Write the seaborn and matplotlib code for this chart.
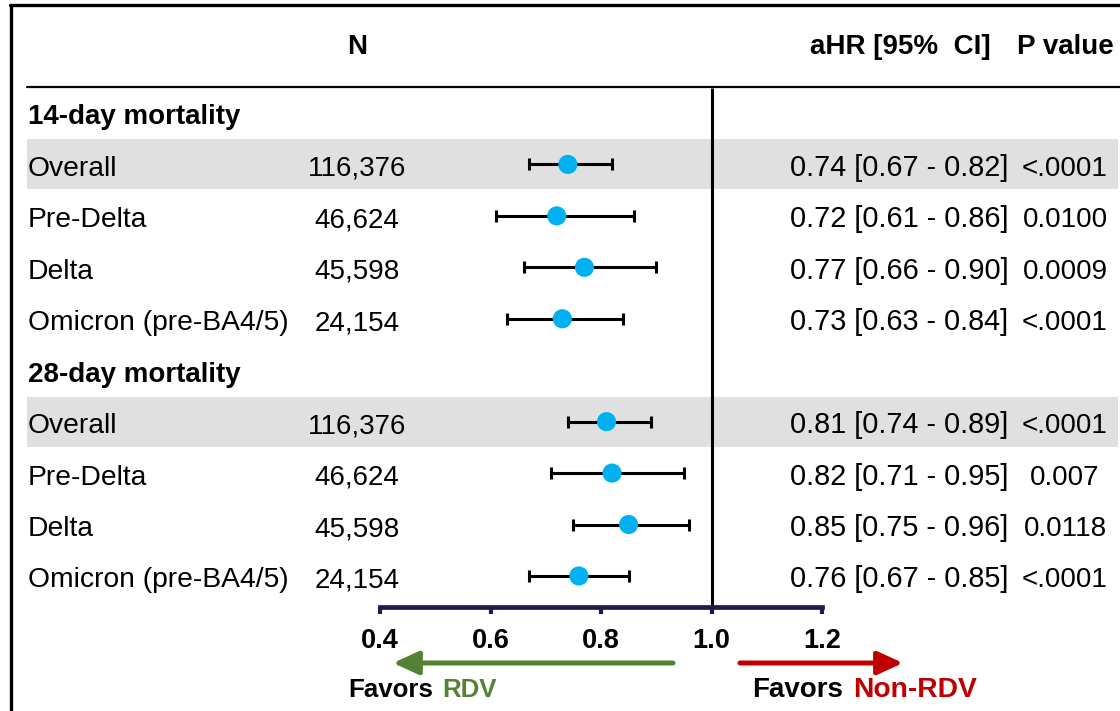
import numpy as np
import matplotlib
matplotlib.use("Agg")
import matplotlib.pyplot as plt
import matplotlib.transforms as mtransforms
from matplotlib.lines import Line2D
import seaborn as sns

# ---------------- data ----------------
group_titles = ["14-day mortality", "28-day mortality"]
subgroups = ["Overall", "Pre-Delta", "Delta", "Omicron (pre-BA4/5)"]
n_14 = ["116,376", "46,624", "45,598", "24,154"]
n_28 = ["116,376", "46,624", "45,598", "24,154"]
hr_14 = [0.74, 0.72, 0.77, 0.73]
lo_14 = [0.67, 0.61, 0.66, 0.63]
hi_14 = [0.82, 0.86, 0.90, 0.84]
p_14 = ["<.0001", "0.0100", "0.0009", "<.0001"]
hr_28 = [0.81, 0.82, 0.85, 0.76]
lo_28 = [0.74, 0.71, 0.75, 0.67]
hi_28 = [0.89, 0.95, 0.96, 0.85]
p_28 = ["<.0001", "0.007", "0.0118", "<.0001"]
x_ticks = [0.4, 0.6, 0.8, 1.0, 1.2]
ref_value = 1.0

# ---------------- style ----------------
sns.set_theme(style="white")
plt.rcParams["font.family"] = ["Liberation Sans", "DejaVu Sans"]
plt.rcParams["text.color"] = "black"
plt.rcParams["xtick.color"] = "black"
plt.rcParams["xtick.labelcolor"] = "black"

W, H = 1120, 711
fig = plt.figure(figsize=(W / 100, H / 100), dpi=100)
ax = fig.add_axes([0, 0, 1, 1])
ax.set_axis_off()

# pixel geometry of the layout
row0_px, row_step = 113.0, 51.44
x04_px, px_per_unit = 380.0, 552.5
axis_px = 607


def row_of(py):
    return (py - row0_px) / row_step


def fx(px):
    return px / W


def fy(py):
    return 1 - py / H


ax.set_xlim(x_ticks[0] - x04_px / px_per_unit, x_ticks[0] + (W - x04_px) / px_per_unit)
ax.set_ylim(row_of(H), row_of(0))

blend = mtransforms.blended_transform_factory(fig.transFigure, ax.transData)
base_off = 11.5 / row_step  # baseline offset below row centre

# frame lines
fig.add_artist(Line2D([fx(10), 1], [fy(5), fy(5)], color="black", lw=2.4, transform=fig.transFigure))
fig.add_artist(Line2D([fx(11), fx(11)], [fy(5), 0], color="black", lw=2.4, transform=fig.transFigure))
fig.add_artist(Line2D([fx(27), 1], [fy(87), fy(87)], color="black", lw=1.6, transform=fig.transFigure))

# header
hdr_y = fy(47)
fig.text(fx(357), hdr_y, "N", ha="center", va="center", fontsize=20, fontweight="bold")
fig.text(fx(900), hdr_y, "aHR [95%  CI]", ha="center", va="center", fontsize=20, fontweight="bold")
fig.text(fx(1065), hdr_y, "P value", ha="center", va="center", fontsize=20, fontweight="bold")

# build rows
groups = [
    (group_titles[0], n_14, hr_14, lo_14, hi_14, p_14),
    (group_titles[1], n_28, hr_28, lo_28, hi_28, p_28),
]
r = 0
pt_rows, pt_hr, pt_lo, pt_hi = [], [], [], []
for title, ns, hrs, los, his, ps in groups:
    ax.text(fx(28), r + base_off, title, transform=blend, ha="left", va="baseline",
            fontsize=20, fontweight="bold")
    r += 1
    for i, name in enumerate(subgroups):
        if i == 0:
            ax.axhspan(r - 0.485, r + 0.485, xmin=fx(27), xmax=fx(1118),
                       color="#e0e0e0", zorder=0, lw=0)
        yb = r + base_off
        ax.text(fx(28), yb, name, transform=blend, ha="left", va="baseline", fontsize=20.3)
        ax.text(fx(357), yb, ns[i], transform=blend, ha="center", va="baseline", fontsize=20)
        ax.text(fx(790), yb, f"{hrs[i]:.2f} [{los[i]:.2f} - {his[i]:.2f}]",
                transform=blend, ha="left", va="baseline", fontsize=20.8)
        ax.text(fx(1065), yb, ps[i], transform=blend, ha="center", va="baseline", fontsize=20)
        pt_rows.append(r)
        pt_hr.append(hrs[i])
        pt_lo.append(los[i])
        pt_hi.append(his[i])
        r += 1

pt_hr = np.array(pt_hr)
pt_lo = np.array(pt_lo)
pt_hi = np.array(pt_hi)
pt_rows = np.array(pt_rows)

# reference line
ax.vlines(ref_value, row_of(88), row_of(axis_px), color="black", lw=2.2, zorder=1)

# CIs
ax.errorbar(pt_hr, pt_rows, xerr=[pt_hr - pt_lo, pt_hi - pt_hr], fmt="none",
            ecolor="black", elinewidth=2.2, capsize=4.5, capthick=2.2, zorder=2)
sns.scatterplot(x=pt_hr, y=pt_rows, ax=ax, s=190, color="#00b0f0",
                edgecolor="none", linewidth=0, zorder=3, legend=False)
ax.set_axis_off()

# x axis (separate axes for the scale)
axx = fig.add_axes([fx(x04_px), fy(axis_px), (x_ticks[-1] - x_ticks[0]) * px_per_unit / W, 0.0001])
axx.set_xlim(x_ticks[0], x_ticks[-1])
axx.set_facecolor("none")
for s in ["left", "right", "top"]:
    axx.spines[s].set_visible(False)
axx.spines["bottom"].set_color("#1f1b4d")
axx.spines["bottom"].set_linewidth(3.4)
axx.set_yticks([])
axx.set_xticks(x_ticks)
axx.set_xticklabels([f"{t:.1f}" for t in x_ticks], fontsize=19.5, fontweight="bold")
axx.tick_params(axis="x", direction="out", length=5, width=3, color="#1f1b4d",
                pad=10, bottom=True, labelcolor="black")

# favour arrows
arrow_y = row_of(663)
ax.annotate("", xy=(x_ticks[0] + (393 - x04_px) / px_per_unit, arrow_y),
            xytext=(x_ticks[0] + (673 - x04_px) / px_per_unit, arrow_y),
            arrowprops=dict(arrowstyle="-|>,head_length=0.7,head_width=0.32",
                            color="#548235", lw=3.6, mutation_scale=22,
                            shrinkA=0, shrinkB=0))
ax.annotate("", xy=(x_ticks[0] + (903 - x04_px) / px_per_unit, arrow_y),
            xytext=(x_ticks[0] + (740 - x04_px) / px_per_unit, arrow_y),
            arrowprops=dict(arrowstyle="-|>,head_length=0.7,head_width=0.32",
                            color="#c00000", lw=3.6, mutation_scale=22,
                            shrinkA=0, shrinkB=0))

lab_y = fy(690)
fig.text(fx(348), lab_y, "Favors", ha="left", va="center", fontsize=18.6, fontweight="bold")
fig.text(fx(442), lab_y, "RDV", ha="left", va="center", fontsize=18.6, fontweight="bold",
         color="#548235")
fig.text(fx(752), lab_y, "Favors", ha="left", va="center", fontsize=20, fontweight="bold")
fig.text(fx(853), lab_y, "Non-RDV", ha="left", va="center", fontsize=20.3, fontweight="bold",
         color="#c00000")

fig.savefig("out.png", dpi=100)
